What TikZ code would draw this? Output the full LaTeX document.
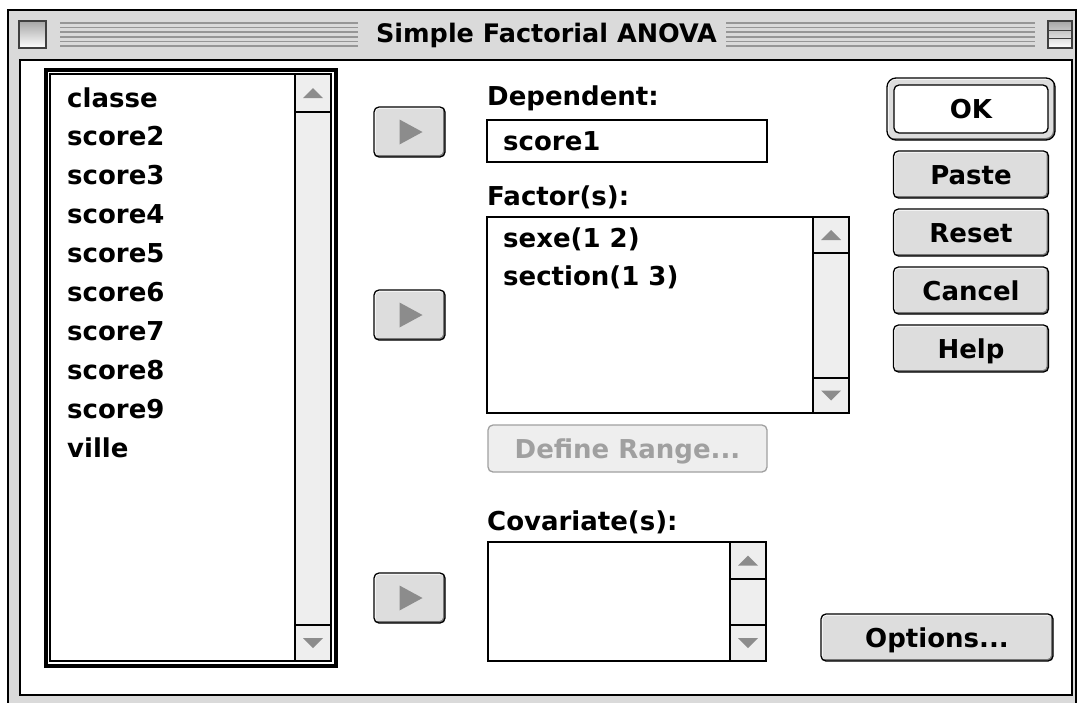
\documentclass[tikz,border=0pt]{standalone}
\usepackage{fontspec}
\setmainfont{DejaVu Sans}
\usetikzlibrary{
  calc,
  positioning
}
\definecolor{framegray}{RGB}{218,218,218}
\definecolor{btngray}{RGB}{221,221,221}
\definecolor{btnshade}{RGB}{120,120,120}
\definecolor{scrollgray}{RGB}{238,238,238}
\definecolor{arrowgray}{RGB}{140,140,140}
\definecolor{stripegray}{RGB}{150,150,150}
\definecolor{dimtext}{RGB}{160,160,160}
\newcommand{\uifont}{\fontsize{26}{31}\selectfont\bfseries}

\begin{document}
\begin{tikzpicture}[x=1pt, y=-1pt,
  box/.style={draw, line width=1.3pt, inner sep=0pt, outer sep=0pt, anchor=north west},
  field/.style={box, fill=white},
  bar/.style={box, fill=scrollgray},
  bevel/.style={path picture={
      \draw[white, line width=3pt] (path picture bounding box.south west)
        -- (path picture bounding box.north west) -- (path picture bounding box.north east);
      \draw[btnshade, line width=4pt] (path picture bounding box.south west)
        -- (path picture bounding box.south east) -- (path picture bounding box.north east);}},
  btn/.style={draw, line width=1.3pt, rounded corners=5pt, fill=btngray, inner sep=0pt,
              outer sep=0pt, font=\uifont, text height=19pt, text depth=0pt, bevel},
  dimbtn/.style={draw=dimtext, line width=1.3pt, rounded corners=5pt, fill=scrollgray,
                 inner sep=0pt, outer sep=0pt, font=\uifont, text=dimtext,
                 text height=19pt, text depth=0pt, anchor=north west},
  entry/.style={anchor=base west, inner sep=0pt, font=\uifont},
  tri/.style={fill=arrowgray},
  node distance=11pt
]
\useasboundingbox[fill=white] (0,0) rectangle (1077,702);

% Window frame and title bar
\node[box, fill=framegray, minimum width=1068pt, minimum height=710pt] (win) at (8,10) {};
\node[box, fill=white, minimum width=1052pt, minimum height=635pt] (pane) at (20,60) {};
\foreach \s in {0,...,5} {
  \draw[stripegray, line width=1.5pt] (60,23+4.6*\s) -- (358,23+4.6*\s);
  \draw[stripegray, line width=1.5pt] (726,23+4.6*\s) -- (1035,23+4.6*\s);
}
\node[box, draw=black!75, line width=2pt, top color=gray!70, bottom color=white,
      minimum width=27pt, minimum height=27pt] (closebox) at (19,21) {};
\node[box, draw=black!75, line width=2pt, top color=gray!70, bottom color=white,
      minimum width=24pt, minimum height=27pt] (zoombox) at (1048,21) {};
\draw[black!75, line width=1.5pt] ($(zoombox.north west)!0.35!(zoombox.south west)$)
  -- ($(zoombox.north east)!0.35!(zoombox.south east)$);
\draw[black!75, line width=1.5pt] ($(zoombox.north west)!0.65!(zoombox.south west)$)
  -- ($(zoombox.north east)!0.65!(zoombox.south east)$);
\node[anchor=base, inner sep=0pt, font=\fontsize{25.5}{30}\selectfont\bfseries, fill=framegray]
  (title) at (542,42) {~Simple Factorial ANOVA~};

% Source variable list
\node[box, line width=3.5pt, minimum width=290pt, minimum height=596pt] (varsouter) at (46,70) {};
\node[field, minimum width=281pt, minimum height=587pt] (vars) at (50,74) {};
\node[bar, minimum width=36pt, minimum height=587pt] (varsbar) at (295,74) {};
\node[bar, minimum width=36pt, minimum height=38pt] (varsup) at (295,74) {};
\node[bar, minimum width=36pt, minimum height=36pt] (varsdn) at (295,625) {};
\fill[tri] ($(varsup.center)+(-10,5)$) -- ++(20,0) -- ++(-10,-10) -- cycle;
\fill[tri] ($(varsdn.center)+(-10,-5)$) -- ++(20,0) -- ++(-10,10) -- cycle;

\node[entry] (v0) at (67,107) {classe};
\node[entry] (v2) at (67,145.9) {score2};
\node[entry] (v3) at (67,184.8) {score3};
\node[entry] (v4) at (67,223.7) {score4};
\node[entry] (v5) at (67,262.6) {score5};
\node[entry] (v6) at (67,301.5) {score6};
\node[entry] (v7) at (67,340.4) {score7};
\node[entry] (v8) at (67,379.3) {score8};
\node[entry] (v9) at (67,418.2) {score9};
\node[entry] (v10) at (67,457.1) {ville};

% Transfer buttons
\node[btn, anchor=north west, minimum width=71pt, minimum height=50pt] (movedep) at (374,107) {};
\node[btn, anchor=north west, minimum width=71pt, minimum height=50pt] (movefac) at (374,290) {};
\node[btn, anchor=north west, minimum width=71pt, minimum height=50pt] (movecov) at (374,573) {};
\fill[tri] ($(movedep.center)+(-10,-12.5)$) -- ++(0,25) -- ++(23,-12.5) -- cycle;
\fill[tri] ($(movefac.center)+(-10,-12.5)$) -- ++(0,25) -- ++(23,-12.5) -- cycle;
\fill[tri] ($(movecov.center)+(-10,-12.5)$) -- ++(0,25) -- ++(23,-12.5) -- cycle;

% Dependent
\node[entry] (deplabel) at (487,105) {Dependent:};
\node[field, minimum width=280pt, minimum height=42pt] (dep) at (487,120) {};
\node[entry] (depval) at (503,150) {score1};

% Factors
\node[entry] (faclabel) at (487,205) {Factor(s):};
\node[field, minimum width=362pt, minimum height=196pt] (facs) at (487,217) {};
\node[bar, minimum width=36pt, minimum height=196pt] (facsbar) at (813,217) {};
\node[bar, minimum width=36pt, minimum height=36pt] (facsup) at (813,217) {};
\node[bar, minimum width=36pt, minimum height=35pt] (facsdn) at (813,378) {};
\fill[tri] ($(facsup.center)+(-10,5)$) -- ++(20,0) -- ++(-10,-10) -- cycle;
\fill[tri] ($(facsdn.center)+(-10,-5)$) -- ++(20,0) -- ++(-10,10) -- cycle;
\node[entry] (f1) at (503,247) {sexe(1 2)};
\node[entry] (f2) at (503,285) {section(1 3)};
\node[dimbtn, minimum width=279pt, minimum height=47pt] (defrange) at (488,425) {Define Range...};

% Covariates
\node[entry] (covlabel) at (487,530) {Covariate(s):};
\node[field, minimum width=278pt, minimum height=119pt] (covs) at (488,542) {};
\node[bar, minimum width=36pt, minimum height=119pt] (covsbar) at (730,542) {};
\node[bar, minimum width=36pt, minimum height=37pt] (covsup) at (730,542) {};
\node[bar, minimum width=36pt, minimum height=36pt] (covsdn) at (730,625) {};
\fill[tri] ($(covsup.center)+(-10,5)$) -- ++(20,0) -- ++(-10,-10) -- cycle;
\fill[tri] ($(covsdn.center)+(-10,-5)$) -- ++(20,0) -- ++(-10,10) -- cycle;

% Command buttons
\node[btn, anchor=north west, rounded corners=9pt, minimum width=168pt, minimum height=62pt] (okring) at (887,78) {};
\node[draw, line width=1.3pt, rounded corners=5pt, fill=white, inner sep=0pt, font=\uifont,
      text height=19pt, text depth=0pt, minimum width=154pt, minimum height=48pt] (ok) at (okring.center) {OK};
\node[btn, minimum width=155pt, minimum height=47pt, below=of okring] (paste) {Paste};
\node[btn, minimum width=155pt, minimum height=47pt, below=of paste] (reset) {Reset};
\node[btn, minimum width=155pt, minimum height=47pt, below=of reset] (cancel) {Cancel};
\node[btn, minimum width=155pt, minimum height=47pt, below=of cancel] (help) {Help};
\node[btn, anchor=north west, minimum width=232pt, minimum height=47pt] (opts) at (821,614) {Options...};

\end{tikzpicture}
\end{document}
